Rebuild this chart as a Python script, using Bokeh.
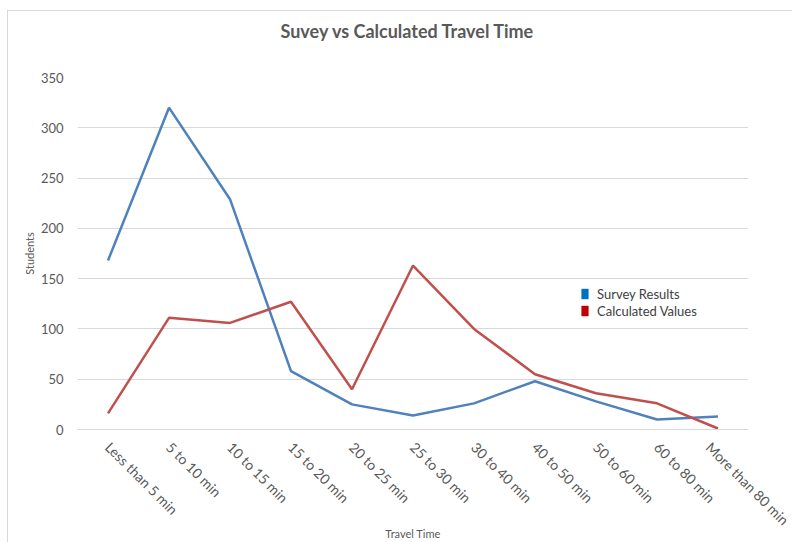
from bokeh.plotting import figure
from bokeh.models import (FactorRange, Range1d, FixedTicker, Legend, LegendItem,
                          ColumnDataSource)
from bokeh.embed import file_html
from bokeh.resources import INLINE
import math

# Travel time buckets and student counts
categories = ["Less than 5 min", "5 to 10 min", "10 to 15 min", "15 to 20 min",
              "20 to 25 min", "25 to 30 min", "30 to 40 min", "40 to 50 min",
              "50 to 60 min", "60 to 80 min", "More than 80 min"]
survey_results = [168, 320, 229, 58, 25, 14, 26, 48, 28, 10, 13]
calculated_values = [16, 111, 106, 127, 40, 163, 100, 55, 36, 26, 1]
y_ticks = [0, 50, 100, 150, 200, 250, 300, 350]

FONT = "Lato"
TEXT = "#595959"
GRID = "#D9D9D9"

# chart area sits inside a thin light-grey border offset from the page corner
p = figure(width=785, height=532, x_range=FactorRange(*categories, range_padding=0),
           y_range=Range1d(0, 350), output_backend="svg", toolbar_location=None,
           min_border_left=69, min_border_right=45, min_border_top=66,
           min_border_bottom=113)
p.styles = {"margin-left": "7px", "margin-top": "10px",
            "border-left": f"1px solid {GRID}", "border-top": f"1px solid {GRID}"}
p.outline_line_color = None
p.background_fill_color = "white"
p.border_fill_color = "white"

# Title, lifted well above the plot area via bottom padding
p.title.text = "Suvey vs Calculated Travel Time"
p.title.align = "left"
p.title.offset = 203
p.title.text_font = FONT
p.title.text_font_size = "18px"
p.title.text_font_style = "bold"
p.title.text_color = TEXT
p.title.standoff = 0
p.title.padding = dict(left=0, right=0, top=0, bottom=36)

# Grid
p.xgrid.grid_line_color = None
p.ygrid.grid_line_color = GRID
p.ygrid.grid_line_width = 1

# Y axis
p.yaxis.ticker = FixedTicker(ticks=y_ticks)
p.yaxis.axis_line_color = None
p.yaxis.major_tick_line_color = None
p.yaxis.minor_tick_line_color = None
p.yaxis.major_label_text_font = FONT
p.yaxis.major_label_text_font_size = "13px"
p.yaxis.major_label_text_color = TEXT
p.yaxis.major_label_standoff = 8
p.yaxis.axis_label = "Students"
p.yaxis.axis_label_text_font = FONT
p.yaxis.axis_label_text_font_size = "11px"
p.yaxis.axis_label_text_font_style = "normal"
p.yaxis.axis_label_text_color = TEXT
p.yaxis.axis_label_standoff = 2

# X axis
p.xaxis.axis_line_color = GRID
p.xaxis.major_tick_line_color = None
p.xaxis.minor_tick_line_color = None
p.xaxis.major_label_orientation = -math.pi / 4
p.xaxis.major_label_text_font = FONT
p.xaxis.major_label_text_font_size = "14px"
p.xaxis.major_label_text_color = TEXT
p.xaxis.major_label_standoff = 9
p.xaxis.axis_label = "Travel Time"
p.xaxis.axis_label_text_font = FONT
p.xaxis.axis_label_text_font_size = "11px"
p.xaxis.axis_label_text_font_style = "normal"
p.xaxis.axis_label_text_color = TEXT
p.xaxis.axis_label_standoff = -10

src = ColumnDataSource(dict(cat=categories, survey=survey_results, calc=calculated_values))
p.line("cat", "survey", source=src, line_color="#4F81BD", line_width=2.5)
p.line("cat", "calc", source=src, line_color="#C0504D", line_width=2.5)

# Legend swatches (renderers with no visible extent)
sw_blue = p.vbar(x=[categories[0]], top=[float("nan")], width=0.5,
                 fill_color="#0070C0", line_color=None)
sw_red = p.vbar(x=[categories[0]], top=[float("nan")], width=0.5,
                fill_color="#C00000", line_color=None)
legend = Legend(items=[LegendItem(label="Survey Results", renderers=[sw_blue]),
                       LegendItem(label="Calculated Values", renderers=[sw_red])],
                location=(503, 110), orientation="vertical",
                background_fill_alpha=0, border_line_color=None,
                padding=0, margin=0, spacing=0,
                glyph_width=9, glyph_height=13, label_height=17,
                label_standoff=8,
                label_text_font=FONT, label_text_font_size="13px",
                label_text_color="#404040")
p.add_layout(legend)

open("out.html", "w").write(file_html(p, INLINE))
